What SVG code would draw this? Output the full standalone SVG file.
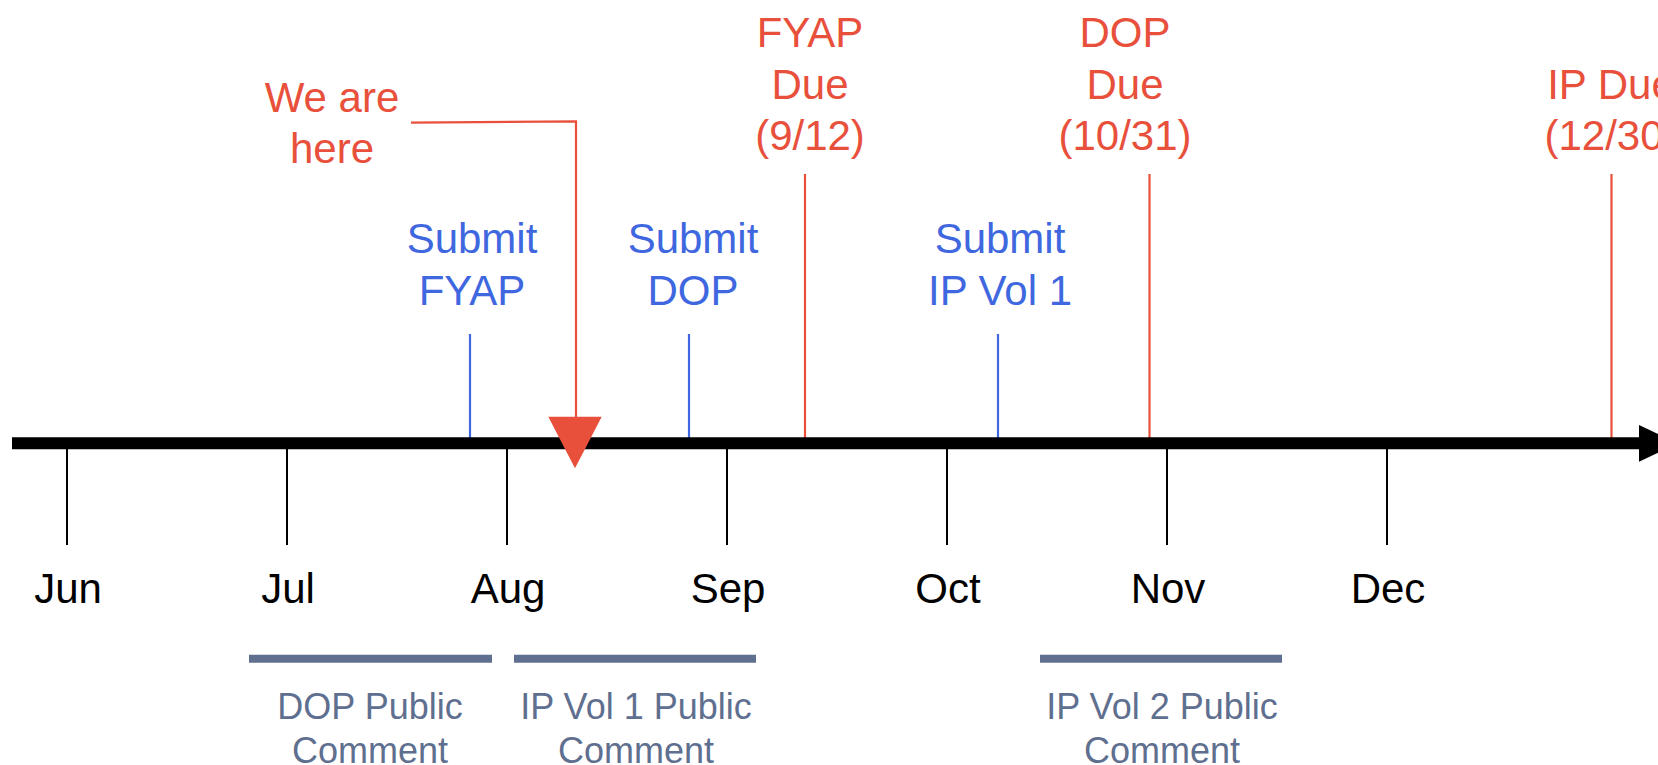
<svg xmlns="http://www.w3.org/2000/svg" width="1658" height="765" viewBox="0 0 1658 765">
  <style>
    text { font-family: "Liberation Sans", Arial, sans-serif; text-anchor: middle; }
    .month { font-size: 42px; fill: #000; }
    .red { font-size: 42px; fill: #E8503C; }
    .blue { font-size: 42px; fill: #3F67E0; }
    .pc { font-size: 36px; fill: #5F6F8F; }
    .tick { stroke: #000; stroke-width: 2; }
    .rline { stroke: #E8503C; stroke-width: 2.2; fill: none; }
    .bline { stroke: #3F67E0; stroke-width: 2.2; }
    .bar { stroke: #5F6F8F; stroke-width: 8; }
  </style>
  <rect width="1658" height="765" fill="#fff"/>

  <g id="connectors">
    <!-- event markers -->
    <line class="bline" x1="470" y1="334" x2="470" y2="443"/>
    <line class="bline" x1="689" y1="334" x2="689" y2="443"/>
    <line class="bline" x1="998" y1="334" x2="998" y2="443"/>
    <line class="rline" x1="805" y1="174" x2="805" y2="442"/>
    <line class="rline" x1="1149.5" y1="174" x2="1149.5" y2="442"/>
    <line class="rline" x1="1611.5" y1="174" x2="1611.5" y2="442"/>
    <!-- month ticks -->
    <line class="tick" x1="67" y1="446" x2="67" y2="545"/>
    <line class="tick" x1="287" y1="446" x2="287" y2="545"/>
    <line class="tick" x1="507" y1="446" x2="507" y2="545"/>
    <line class="tick" x1="727" y1="446" x2="727" y2="545"/>
    <line class="tick" x1="947" y1="446" x2="947" y2="545"/>
    <line class="tick" x1="1167" y1="446" x2="1167" y2="545"/>
    <line class="tick" x1="1387" y1="446" x2="1387" y2="545"/>
  </g>

  <g id="axis">
    <line x1="12" y1="443.3" x2="1645" y2="443.3" stroke="#000" stroke-width="12"/>
    <polygon points="1639,425 1678,443.3 1639,461.7" fill="#000"/>
  </g>

  <g id="we-are-here">
    <polyline class="rline" points="411,122.7 576,121.3 576,420"/>
    <polygon points="548.3,416.7 601.7,416.7 575,468.3" fill="#E8503C"/>
    <text class="red" x="332" y="111.7">We are</text>
    <text class="red" x="332" y="163.3">here</text>
  </g>

  <g id="submit-fyap">
    <text class="blue" x="472" y="253.3">Submit</text>
    <text class="blue" x="472" y="304.5">FYAP</text>
  </g>
  <g id="submit-dop">
    <text class="blue" x="693" y="253.3">Submit</text>
    <text class="blue" x="693" y="304.5">DOP</text>
  </g>
  <g id="submit-ip-vol1">
    <text class="blue" x="1000" y="253.3">Submit</text>
    <text class="blue" x="1000" y="304.5">IP Vol 1</text>
  </g>

  <g id="fyap-due">
    <text class="red" x="810" y="46.7">FYAP</text>
    <text class="red" x="810" y="99">Due</text>
    <text class="red" x="810" y="150">(9/12)</text>
  </g>
  <g id="dop-due">
    <text class="red" x="1125" y="46.7">DOP</text>
    <text class="red" x="1125" y="99">Due</text>
    <text class="red" x="1125" y="150">(10/31)</text>
  </g>
  <g id="ip-due">
    <text class="red" x="1611" y="99">IP Due</text>
    <text class="red" x="1611" y="150">(12/30)</text>
  </g>

  <g id="months">
    <text class="month" x="68" y="602.7">Jun</text>
    <text class="month" x="288" y="602.7">Jul</text>
    <text class="month" x="508" y="602.7">Aug</text>
    <text class="month" x="728" y="602.7">Sep</text>
    <text class="month" x="948" y="602.7">Oct</text>
    <text class="month" x="1168" y="602.7">Nov</text>
    <text class="month" x="1388" y="602.7">Dec</text>
  </g>

  <g id="dop-public-comment">
    <line class="bar" x1="249" y1="658.7" x2="492" y2="658.7"/>
    <text class="pc" x="370" y="719">DOP Public</text>
    <text class="pc" x="370" y="763">Comment</text>
  </g>
  <g id="ip-vol1-public-comment">
    <line class="bar" x1="514" y1="658.7" x2="756" y2="658.7"/>
    <text class="pc" x="636" y="719">IP Vol 1 Public</text>
    <text class="pc" x="636" y="763">Comment</text>
  </g>
  <g id="ip-vol2-public-comment">
    <line class="bar" x1="1040" y1="658.7" x2="1282" y2="658.7"/>
    <text class="pc" x="1162" y="719">IP Vol 2 Public</text>
    <text class="pc" x="1162" y="763">Comment</text>
  </g>
</svg>
